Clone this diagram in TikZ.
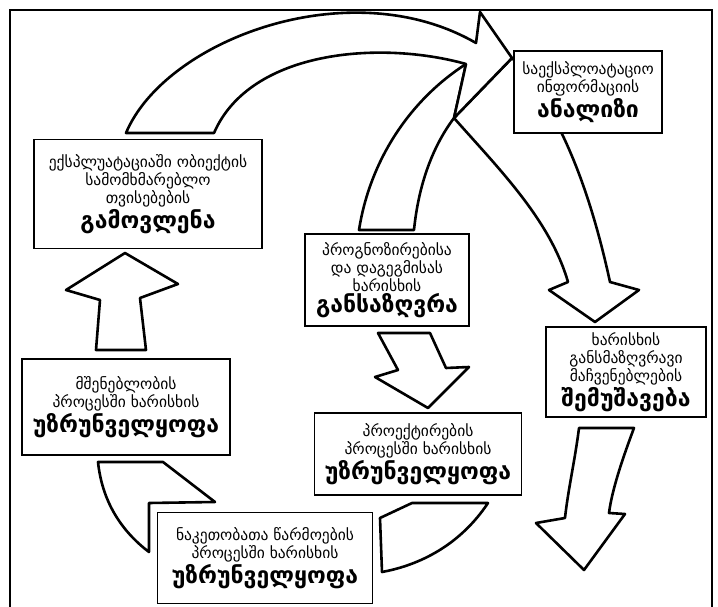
\documentclass[tikz,border=0pt]{standalone}
\usepackage{fontspec}
\setmainfont{DejaVu Sans}
\usepackage{tikz}
\newcommand{\bigword}[1]{{\fontsize{23}{25}\selectfont\bfseries #1}}
\tikzset{
    stage/.style={draw, line width=1.6pt, fill=white, align=center, inner sep=2pt, font=\fontsize{15.5}{18}\selectfont},
    blockarrow/.style={draw, line width=2.6pt, fill=white, line join=round}
}

\begin{document}
\begin{tikzpicture}[x=1pt,y=-1pt]
        \useasboundingbox (0,0) rectangle (718,607);
        \draw[line width=2pt] (10,607) -- (10,10) -- (712,10) -- (712,607);
        \draw[blockarrow] (454,118) .. controls (500,170) and (550,220) .. (568,282) -- (549,290) -- (595,322) -- (639,290) -- (610,282) .. controls (590,190) and (560,110) .. (512,58) -- cycle;
        \draw[blockarrow] (359,230) .. controls (370,160) and (410,100) .. (466,64) -- (454,118) .. controls (430,150) and (418,190) .. (414,230) -- cycle;
        \draw[blockarrow] (126,133) .. controls (165,40) and (350,-30) .. (476,43) -- (480,12) -- (512,58) -- (454,118) -- (466,64) .. controls (380,40) and (250,50) .. (214,133) -- cycle;
        \draw[blockarrow] (378,333) -- (430,333) -- (446,368) -- (469,367) -- (428,408) -- (375,377) -- (398,370) -- cycle;
        \draw[blockarrow] (579,428) -- (634,428) .. controls (622,460) and (612,490) .. (609,513) -- (625,514) -- (584,570) -- (536,523) -- (565,518) .. controls (568,490) and (575,460) .. (579,428) -- cycle;
        \draw[blockarrow] (380,518) -- (412,503) -- (488,503) .. controls (460,545) and (420,565) .. (382,572) -- cycle;
        \draw[blockarrow] (98,462) -- (163,462) -- (215,502) -- (149,503) -- (149,552) .. controls (120,530) and (102,500) .. (98,462) -- cycle;
        \draw[blockarrow] (96,350) -- (100,300) -- (66,290) -- (125,253) -- (178,284) -- (140,298) -- (146,350) -- cycle;
        \node[stage, minimum width=148, minimum height=82] (analizi) at (588,92) {საექსპლოატაციო\\ინფორმაციის\\[1pt]\bigword{ანალიზი}};
        \node[stage, minimum width=228, minimum height=109] (gamovlena) at (148,194) {ექსპლუატაციაში ობიექტის\\სამომხმარებლო\\თვისებების\\[1pt]\bigword{გამოვლენა}};
        \node[stage, minimum width=164, minimum height=92] (gansazghvra) at (387,280) {პროგნოზირებისა\\და დაგეგმისას\\ხარისხის\\[1pt]\bigword{განსაზღვრა}};
        \node[stage, minimum width=160, minimum height=90] (shemushaveba) at (626,372) {ხარისხის\\განსმაზღვრავი\\მაჩვენებლების\\[1pt]\bigword{შემუშავება}};
        \node[stage, minimum width=208, minimum height=96] (mshenebloba) at (126,407) {მშენებლობის\\პროცესში ხარისხის\\[1pt]\bigword{უზრუნველყოფა}};
        \node[stage, minimum width=207, minimum height=82] (proeqtireba) at (418,454) {პროექტირების\\პროცესში ხარისხის\\[1pt]\bigword{უზრუნველყოფა}};
        \node[stage, minimum width=215, minimum height=91] (naketobata) at (265,558) {ნაკეთობათა წარმოების\\პროცესში ხარისხის\\[1pt]\bigword{უზრუნველყოფა}};
\end{tikzpicture}
\end{document}
